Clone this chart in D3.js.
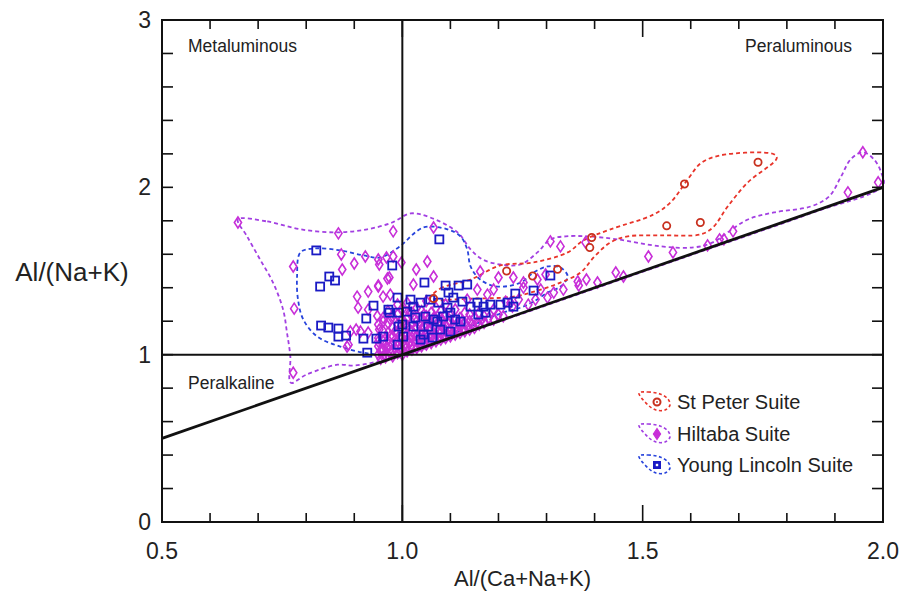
<!DOCTYPE html>
<html><head><meta charset="utf-8">
<script src="https://cdn.jsdelivr.net/npm/d3@7"></script>
<style>body{margin:0;background:#fff}svg{display:block;font-family:"Liberation Sans",Arial,sans-serif}</style>
</head><body>
<svg id="c" width="906" height="603"></svg>
<script>
// ---------- DATA ----------
const xTickLabels = ["0.5","1.0","1.5","2.0"];
const yTickLabels = ["0","1","2","3"];
const seriesNames = ["St Peter Suite","Hiltaba Suite","Young Lincoln Suite"];

const stPeter = [[1.065,1.335],[1.217,1.50],[1.271,1.47],[1.323,1.51],[1.39,1.64],[1.394,1.70],
  [1.55,1.77],[1.587,2.02],[1.62,1.79],[1.74,2.15]];

const hiltaba = [
  [0.658,1.79],[0.867,1.725],[0.981,1.737],[0.773,1.527],[0.775,1.275],[0.773,0.892],
  [0.873,1.599],[0.875,1.509],[0.900,1.545],[0.923,1.587],[0.950,1.569],[0.967,1.581],[0.981,1.587],
  [0.969,1.455],[0.950,1.407],[0.929,1.377],[0.906,1.347],[0.908,1.281],[0.929,1.269],
  [0.892,1.138],[0.913,1.138],[0.885,1.048],[0.952,1.539],[0.973,1.461],[0.950,1.413],
  [0.960,1.347],[0.975,1.359],[0.948,1.231],[0.960,1.198],[0.975,1.210],
  [0.904,1.150],[0.929,1.132],[0.952,1.150],[0.888,1.060],[0.950,1.078],[0.971,1.060],
  [0.956,1.030],[0.975,1.012],[0.955,0.975],[0.965,0.985],
  [1.065,1.760],[1.052,1.557],[1.029,1.509],[1.065,1.467],[1.023,1.419],[0.998,1.551],
  [1.162,1.497],[1.200,1.461],[1.231,1.461],[1.252,1.431],[1.281,1.449],[1.298,1.479],
  [1.190,1.389],[1.225,1.311],[1.315,1.371],[1.365,1.437],[1.308,1.677],[1.329,1.647],[1.381,1.671],
  [1.156,1.389],[1.177,1.359],[1.135,1.329],[1.252,1.401],[1.288,1.389],[1.215,1.317],
  [1.242,1.329],[1.277,1.329],[1.335,1.389],[1.367,1.413],[1.383,1.449],[1.406,1.431],
  [1.444,1.491],[1.460,1.467],[1.512,1.587],[1.262,1.299],[1.302,1.341],[1.229,1.287],
  [1.563,1.611],[1.635,1.653],[1.660,1.689],[1.669,1.689],[1.688,1.737],
  [1.927,1.970],[1.958,2.210],[1.990,2.030],
  // dense cluster
  [0.95,1.00],[0.95,1.05],[0.95,1.10],[0.95,1.18],
  [0.96,0.99],[0.96,1.03],[0.96,1.08],[0.96,1.14],[0.96,1.22],
  [0.97,1.00],[0.97,1.04],[0.97,1.09],[0.97,1.13],[0.97,1.19],[0.97,1.26],
  [0.98,0.99],[0.98,1.02],[0.98,1.06],[0.98,1.11],[0.98,1.16],[0.98,1.23],
  [0.99,1.01],[0.99,1.05],[0.99,1.08],[0.99,1.13],[0.99,1.18],[0.99,1.24],[0.99,1.30],
  [1.00,1.00],[1.00,1.03],[1.00,1.07],[1.00,1.10],[1.00,1.15],[1.00,1.21],[1.00,1.27],
  [1.01,1.02],[1.01,1.05],[1.01,1.09],[1.01,1.12],[1.01,1.17],[1.01,1.22],[1.01,1.31],
  [1.02,1.03],[1.02,1.06],[1.02,1.10],[1.02,1.14],[1.02,1.19],[1.02,1.25],
  [1.03,1.04],[1.03,1.08],[1.03,1.11],[1.03,1.16],[1.03,1.20],[1.03,1.28],
  [1.04,1.05],[1.04,1.08],[1.04,1.12],[1.04,1.15],[1.04,1.22],[1.04,1.26],
  [1.05,1.06],[1.05,1.10],[1.05,1.13],[1.05,1.18],[1.05,1.23],[1.05,1.32],
  [1.06,1.07],[1.06,1.11],[1.06,1.15],[1.06,1.19],[1.06,1.25],
  [1.07,1.08],[1.07,1.12],[1.07,1.16],[1.07,1.21],[1.07,1.28],
  [1.08,1.09],[1.08,1.13],[1.08,1.18],[1.08,1.22],[1.08,1.26],
  [1.09,1.10],[1.09,1.14],[1.09,1.17],[1.09,1.24],[1.09,1.30],
  [1.10,1.11],[1.10,1.15],[1.10,1.20],[1.10,1.23],
  [1.11,1.12],[1.11,1.16],[1.11,1.21],[1.11,1.27],
  [1.12,1.13],[1.12,1.18],[1.12,1.22],[1.13,1.14],[1.13,1.19],[1.13,1.25],
  [1.14,1.15],[1.14,1.20],[1.14,1.24],[1.15,1.16],[1.15,1.22],[1.16,1.18],[1.16,1.25],
  [1.17,1.19],[1.17,1.23],[1.19,1.21],[1.19,1.27],[1.21,1.23],
  [0.955,1.02],[0.965,1.06],[0.975,1.11],[0.985,1.04],[0.985,1.14],[0.995,1.03],[0.995,1.10],
  [0.995,1.16],[1.005,1.05],[1.005,1.13],[1.005,1.19],[1.015,1.07],[1.015,1.15],[1.015,1.25],
  [1.025,1.08],[1.025,1.12],[1.025,1.21],[1.035,1.06],[1.035,1.13],[1.035,1.18],[1.045,1.07],
  [1.045,1.10],[1.045,1.17],[1.045,1.24],[1.055,1.08],[1.055,1.15],[1.055,1.21],[1.065,1.09],
  [1.065,1.13],[1.065,1.22],[1.075,1.10],[1.075,1.14],[1.075,1.19],[1.085,1.11],[1.085,1.16],
  [1.085,1.20],[1.095,1.12],[1.095,1.19],[1.105,1.13],[1.105,1.17],[1.115,1.14],[1.115,1.19],
  [1.125,1.15],[1.125,1.20],[1.135,1.17],[1.145,1.18],[1.155,1.19],[1.165,1.21],[1.18,1.22],[1.20,1.24]
];

const youngLincoln = [
  [0.821,1.623],[0.848,1.467],[0.860,1.443],[0.829,1.407],[0.979,1.533],[0.831,1.174],
  [0.846,1.162],[0.867,1.156],[0.883,1.114],[0.867,1.108],[0.919,1.096],[0.927,1.012],
  [0.940,1.293],[0.925,1.216],[0.946,1.096],[0.960,1.108],[0.990,1.341],[0.973,1.251],
  [0.992,1.251],[0.992,1.168],[0.990,1.060],[1.077,1.689],[1.046,1.431],[1.090,1.413],
  [1.117,1.413],[1.135,1.419],[1.308,1.473],[1.273,1.383],[1.235,1.365],[1.017,1.329],
  [1.023,1.287],[1.038,1.311],[1.058,1.329],[1.075,1.311],[1.096,1.371],[1.106,1.341],
  [1.125,1.317],[1.142,1.287],[1.156,1.311],[1.169,1.287],[1.183,1.299],[1.204,1.299],
  [1.219,1.311],[1.231,1.287],[1.158,1.240],[1.173,1.251],[1.010,1.257],[1.027,1.222],
  [1.048,1.228],[1.065,1.210],[1.094,1.281],[1.100,1.251],[1.110,1.210],[1.121,1.198],
  [1.023,1.168],[1.044,1.120],[1.054,1.168],[1.073,1.198],[1.079,1.150],[1.100,1.138],
  [1.000,1.180],[1.002,1.108],[1.038,1.090],[1.063,1.102],[0.971,1.269],[1.085,1.228]
];

// envelopes (field outlines)
const stPeterField = [[1.058,1.335],[1.079,1.395],[1.142,1.449],[1.204,1.533],[1.273,1.551],[1.344,1.611],
  [1.377,1.683],[1.433,1.749],[1.523,1.838],[1.558,1.910],[1.594,2.048],[1.621,2.144],[1.663,2.192],
  [1.773,2.198],[1.779,2.174],[1.719,2.030],[1.677,1.886],[1.646,1.760],[1.621,1.719],[1.538,1.713],
  [1.469,1.707],[1.433,1.671],[1.398,1.581],[1.371,1.491],[1.329,1.431],[1.281,1.383],[1.231,1.347],[1.142,1.335]];

const hiltabaField = [[0.658,1.808],[0.719,1.796],[0.788,1.749],[0.865,1.731],[0.927,1.749],[0.979,1.790],
  [1.017,1.844],[1.058,1.820],[1.115,1.731],[1.142,1.629],[1.167,1.569],[1.204,1.539],[1.246,1.539],
  [1.281,1.611],[1.308,1.689],[1.340,1.707],[1.385,1.707],[1.448,1.689],[1.538,1.647],[1.606,1.641],
  [1.646,1.671],[1.677,1.731],[1.719,1.808],[1.773,1.850],[1.850,1.886],[1.888,1.946],[1.913,2.066],
  [1.933,2.168],[1.958,2.210],[1.981,2.168],[1.996,2.090],[2.000,2.012],[1.85,1.845],[1.6,1.595],
  [1.3,1.295],[1.1,1.095],[1.0,0.99],[0.96,0.965],[0.90,0.935],[0.865,0.940],[0.80,0.88],
  [0.768,0.832],[0.767,0.988],[0.760,1.132],[0.752,1.269],[0.731,1.431],[0.704,1.569],[0.677,1.707]];

const youngLincolnField = [[0.788,1.611],[0.819,1.635],[0.871,1.623],[0.919,1.593],[0.954,1.581],
  [0.992,1.641],[1.044,1.760],[1.094,1.749],[1.121,1.707],[1.135,1.629],[1.142,1.527],[1.162,1.449],
  [1.198,1.407],[1.246,1.431],[1.273,1.491],[1.302,1.527],[1.329,1.521],[1.344,1.467],[1.329,1.407],
  [1.302,1.371],[1.273,1.317],[1.246,1.281],[1.204,1.246],[1.127,1.150],[1.058,1.060],[1.006,1.006],
  [0.954,1.000],[0.919,1.012],[0.871,1.048],[0.823,1.108],[0.794,1.210],[0.783,1.329],[0.781,1.467]];

// ---------- DRAW ----------
const svg = d3.select("#c");
const L=162, R=883, T=20, B=522;
const x = d3.scaleLinear().domain([0.5,2.0]).range([L,R]);
const y = d3.scaleLinear().domain([0,3]).range([B,T]);

const cRed="#e8342a", cRedPt="#c8301e", cPur="#a23fe2", cMag="#c82ed8", cBlue="#2844dc", cBluePt="#1a1ac4";

const area = svg.append("g");
const line = d3.line().x(d=>x(d[0])).y(d=>y(d[1])).curve(d3.curveCatmullRomClosed.alpha(0.5));
function field(data,col){
  area.append("path").attr("d",line(data)).attr("fill","none").attr("stroke",col)
    .attr("stroke-width",1.8).attr("stroke-dasharray","4,3");
}
field(hiltabaField,cPur);
field(youngLincolnField,cBlue);
field(stPeterField,cRed);

const diamond = "M0,-5.5L3.6,0L0,5.5L-3.6,0Z";
const pts = svg.append("g");
pts.selectAll(".h").data(hiltaba).join("path").attr("d",diamond)
  .attr("transform",d=>`translate(${x(d[0])},${y(d[1])})`)
  .attr("fill","none").attr("stroke",cMag).attr("stroke-width",1.6);
pts.selectAll(".y").data(youngLincoln).join("rect")
  .attr("x",d=>x(d[0])-4).attr("y",d=>y(d[1])-4).attr("width",8).attr("height",8)
  .attr("fill","none").attr("stroke",cBluePt).attr("stroke-width",1.8);
pts.selectAll(".s").data(stPeter).join("circle")
  .attr("cx",d=>x(d[0])).attr("cy",d=>y(d[1])).attr("r",3.6)
  .attr("fill","none").attr("stroke",cRedPt).attr("stroke-width",1.8);

// reference lines
svg.append("line").attr("x1",x(1)).attr("x2",x(1)).attr("y1",T).attr("y2",B).attr("stroke","#111").attr("stroke-width",2);
svg.append("line").attr("x1",L).attr("x2",R).attr("y1",y(1)).attr("y2",y(1)).attr("stroke","#111").attr("stroke-width",2);
svg.append("line").attr("x1",x(0.5)).attr("y1",y(0.5)).attr("x2",x(2)).attr("y2",y(2)).attr("stroke","#111").attr("stroke-width",2.8);

// frame and ticks
svg.append("rect").attr("x",L).attr("y",T).attr("width",R-L).attr("height",B-T).attr("fill","none").attr("stroke","#111").attr("stroke-width",2);
const tk = svg.append("g").attr("stroke","#111").attr("stroke-width",1.6);
d3.range(6,20).forEach(i=>{
  const v=i/10, px=x(v), len=(i%5===0)?17:9;
  tk.append("line").attr("x1",px).attr("x2",px).attr("y1",B).attr("y2",B-len);
  tk.append("line").attr("x1",px).attr("x2",px).attr("y1",T).attr("y2",T+len);
});
d3.range(1,15).forEach(i=>{
  const py=y(i*0.2);
  tk.append("line").attr("x1",L).attr("x2",L+11).attr("y1",py).attr("y2",py);
  tk.append("line").attr("x1",R).attr("x2",R-11).attr("y1",py).attr("y2",py);
});

// tick labels
const fs=23;
svg.selectAll(".xt").data(xTickLabels).join("text").attr("x",d=>x(+d)).attr("y",B+37)
  .attr("text-anchor","middle").attr("font-size",fs).attr("fill","#222").text(d=>d);
svg.selectAll(".yt").data(yTickLabels).join("text").attr("x",L-11).attr("y",d=>y(+d)+8)
  .attr("text-anchor","end").attr("font-size",fs).attr("fill","#222").text(d=>d);
svg.append("text").attr("x",(L+R)/2).attr("y",586).attr("text-anchor","middle").attr("font-size",22).attr("fill","#222").text("Al/(Ca+Na+K)");
svg.append("text").attr("x",72).attr("y",281).attr("text-anchor","middle").attr("font-size",26).attr("fill","#222").text("Al/(Na+K)");

// region labels
svg.append("text").attr("x",188).attr("y",52).attr("font-size",17.5).attr("fill","#222").text("Metaluminous");
svg.append("text").attr("x",852).attr("y",52).attr("text-anchor","end").attr("font-size",17.5).attr("fill","#222").text("Peraluminous");
svg.append("text").attr("x",188).attr("y",389).attr("font-size",17.5).attr("fill","#222").text("Peralkaline");

// legend
const blob = [[-18,-9],[-9,-10],[3,-8],[11,-3],[13,3],[8,8],[-1,8],[-9,3]];
const blobLine = d3.line().curve(d3.curveCatmullRomClosed.alpha(0.5));
const legCols=[cRed,cPur,cBlue], legY=[402,434,465];
seriesNames.forEach((n,i)=>{
  const g=svg.append("g").attr("transform",`translate(657,${legY[i]})`);
  g.append("path").attr("d",blobLine(blob)).attr("fill","none").attr("stroke",legCols[i]).attr("stroke-width",1.6).attr("stroke-dasharray","3,2.5");
  if(i===0){ g.append("circle").attr("r",3.5).attr("fill","none").attr("stroke",cRedPt).attr("stroke-width",2);
             g.append("circle").attr("r",1).attr("fill",cRedPt);}
  if(i===1){ g.append("path").attr("d",diamond).attr("fill",cMag).attr("stroke",cMag).attr("stroke-width",1.2);}
  if(i===2){ g.append("rect").attr("x",-4).attr("y",-4).attr("width",8).attr("height",8).attr("fill",cBluePt);
             g.append("rect").attr("x",-1.2).attr("y",-1.2).attr("width",2.4).attr("height",2.4).attr("fill","#fff");}
  svg.append("text").attr("x",677).attr("y",legY[i]+7).attr("font-size",20).attr("fill","#222").text(n);
});
</script>
</body></html>
